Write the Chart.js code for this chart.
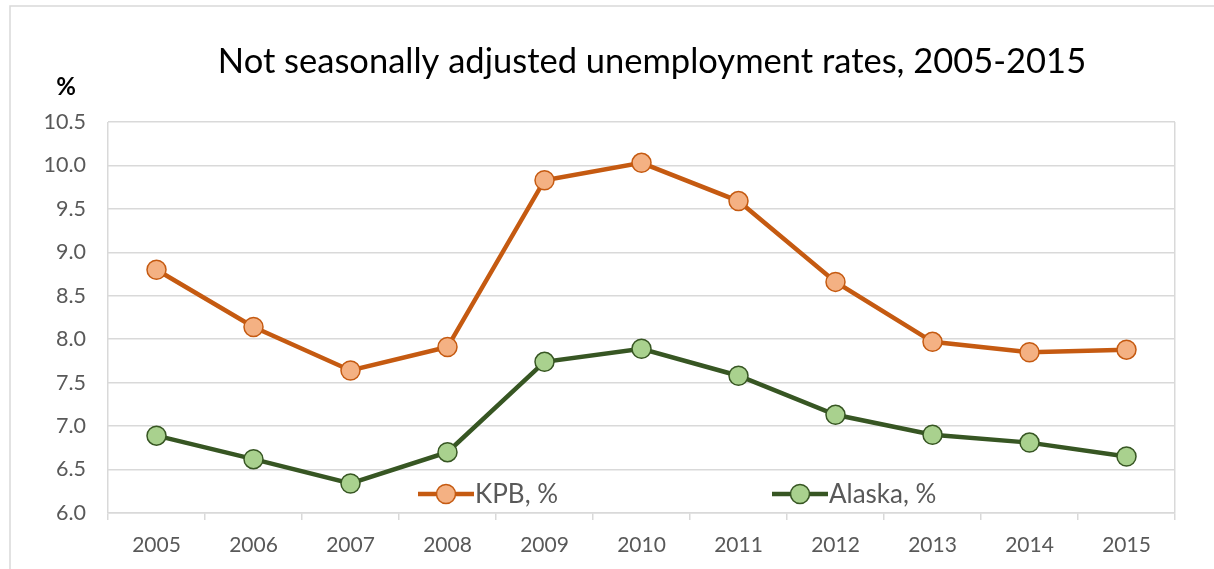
<!DOCTYPE html>
<html>
<head>
<meta charset="utf-8">
<script src="https://cdn.jsdelivr.net/npm/chart.js@4"></script>
<style>
  html, body { margin: 0; padding: 0; background: #fff; }
  #wrap { width: 1214px; height: 569px; position: relative; }
</style>
</head>
<body>
<div id="wrap"><canvas id="myChart" width="1214" height="569"></canvas></div>
<script>
// Datos
var years = ["2005", "2006", "2007", "2008", "2009", "2010", "2011", "2012", "2013", "2014", "2015"];
var kpb = [8.80, 8.14, 7.64, 7.91, 9.83, 10.03, 9.59, 8.66, 7.97, 7.85, 7.88];
var alaska = [6.89, 6.62, 6.34, 6.70, 7.74, 7.89, 7.58, 7.13, 6.90, 6.81, 6.65];
var seriesNames = ["KPB, %", "Alaska, %"];
var chartTitle = "Not seasonally adjusted unemployment rates, 2005-2015";
var unitLabel = "%";

var fontName = "Lato, 'Open Sans', sans-serif";
var gridColor = "#d9d9d9";
var textColor = "#595959";

// Titulo, marco y etiqueta de unidad
var decoPlugin = {
  id: "deco",
  beforeDraw: function (chart) {
    var c = chart.ctx;
    c.save();
    c.strokeStyle = gridColor;
    c.lineWidth = 1.5;
    c.beginPath();
    c.moveTo(10, 569);
    c.lineTo(10, 6);
    c.lineTo(1214, 6);
    c.stroke();

    c.fillStyle = "#000";
    c.textAlign = "center";
    c.textBaseline = "middle";
    c.font = "34.5px " + fontName;
    c.fillText(chartTitle, 652, 62);

    c.font = "bold 24px " + fontName;
    c.fillText(unitLabel, 66, 87);
    c.restore();
  }
};

// Leyenda dentro del area del grafico
var legendSpots = [{ x: 418, y: 494 }, { x: 772, y: 494 }];
var legendPlugin = {
  id: "insideLegend",
  afterDatasetsDraw: function (chart) {
    var c = chart.ctx;
    c.save();
    chart.data.datasets.forEach(function (ds, i) {
      var p = legendSpots[i];
      c.strokeStyle = ds.borderColor;
      c.lineWidth = ds.borderWidth;
      c.beginPath();
      c.moveTo(p.x, p.y);
      c.lineTo(p.x + 56, p.y);
      c.stroke();
      c.beginPath();
      c.arc(p.x + 28, p.y, ds.pointRadius, 0, Math.PI * 2);
      c.fillStyle = ds.pointBackgroundColor;
      c.fill();
      c.lineWidth = ds.pointBorderWidth;
      c.strokeStyle = ds.pointBorderColor;
      c.stroke();
      c.fillStyle = textColor;
      c.font = "26px " + fontName;
      c.textAlign = "left";
      c.textBaseline = "middle";
      c.fillText(ds.label, p.x + 57, p.y + 1);
    });
    c.restore();
  }
};

document.addEventListener("DOMContentLoaded", function () {
  var ctx = document.getElementById("myChart").getContext("2d");
  var lastLine = years.length;

  new Chart(ctx, {
    type: "line",
    data: {
      labels: years,
      datasets: [
        {
          label: seriesNames[0],
          data: kpb,
          borderColor: "#c55a11",
          borderWidth: 4.5,
          pointRadius: 9.5,
          pointBackgroundColor: "#f4b183",
          pointBorderColor: "#c55a11",
          pointBorderWidth: 1.5,
          tension: 0
        },
        {
          label: seriesNames[1],
          data: alaska,
          borderColor: "#375623",
          borderWidth: 4.5,
          pointRadius: 9.5,
          pointBackgroundColor: "#a9d18e",
          pointBorderColor: "#375623",
          pointBorderWidth: 1.5,
          tension: 0
        }
      ]
    },
    plugins: [decoPlugin, legendPlugin],
    options: {
      responsive: false,
      animation: false,
      layout: { padding: { top: 122, right: 39, left: 0, bottom: 0 } },
      plugins: {
        legend: { display: false },
        title: { display: false },
        tooltip: { enabled: false }
      },
      scales: {
        x: {
          offset: true,
          afterFit: function (s) { s.height = 56; },
          grid: {
            offset: true,
            lineWidth: 1.5,
            tickLength: 7,
            tickColor: gridColor,
            color: function (c) {
              return (c.index === 0 || c.index === undefined || c.index === lastLine) ? gridColor : "rgba(0,0,0,0)";
            }
          },
          border: { display: true, color: gridColor, width: 1.5 },
          ticks: {
            color: textColor,
            font: { family: fontName, size: 21 },
            padding: 13,
            maxRotation: 0
          }
        },
        y: {
          min: 6,
          max: 10.5,
          afterFit: function (s) { s.width = 108; },
          grid: { color: gridColor, lineWidth: 1.5, drawTicks: false },
          border: { display: false },
          ticks: {
            stepSize: 0.5,
            color: textColor,
            padding: 22,
            font: { family: fontName, size: 21.5 },
            callback: function (v) { return v.toFixed(1); }
          }
        }
      }
    }
  });
});
</script>
</body>
</html>
